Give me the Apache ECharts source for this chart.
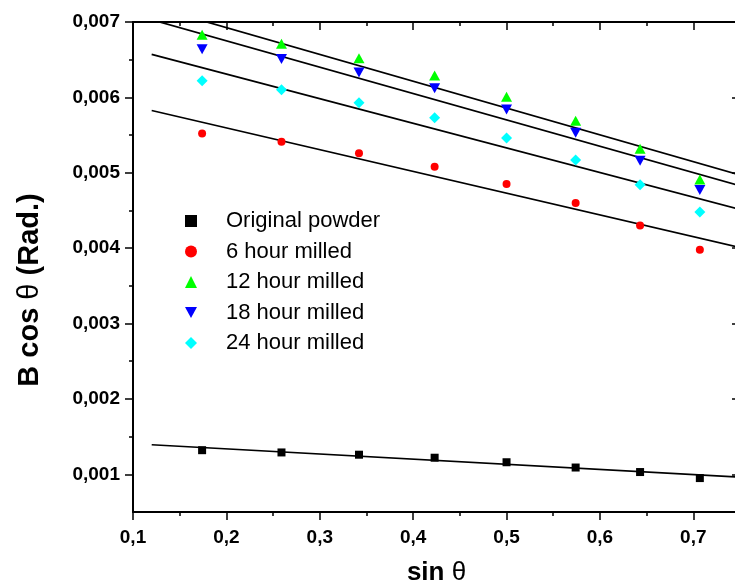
<!DOCTYPE html>
<html>
<head>
<meta charset="utf-8">
<script src="https://cdn.jsdelivr.net/npm/echarts@6/dist/echarts.min.js"></script>
<style>html,body{margin:0;padding:0;background:#fff;}#c{width:735px;height:587px;}</style>
</head>
<body>
<div id="c"></div>
<script>
// ---- data ----
const sinTheta = [0.174, 0.259, 0.342, 0.423, 0.500, 0.574, 0.643, 0.707];
const originalPowder = [0.00132, 0.00129, 0.00126, 0.00122, 0.00116, 0.00109, 0.00103, 0.00095];
const milled6h  = [0.00552, 0.00541, 0.00526, 0.00508, 0.00485, 0.00460, 0.00430, 0.00398];
const milled12h = [0.00683, 0.00671, 0.00652, 0.00629, 0.00601, 0.00569, 0.00532, 0.00491];
const milled18h = [0.00664, 0.00651, 0.00633, 0.00612, 0.00584, 0.00553, 0.00516, 0.00477];
const milled24h = [0.00622, 0.00610, 0.00593, 0.00573, 0.00546, 0.00517, 0.00484, 0.00448];
// linear fit lines: values at fitX ends
const fitX = [0.12, 0.75];
const fitOriginal = [0.001392, 0.000962];
const fit6h  = [0.005826, 0.004008];
const fit12h = [0.00721, 0.00497];
const fit18h = [0.00703, 0.004827];
const fit24h = [0.00657, 0.004512];
// ticks
const xMajor = [0.1, 0.2, 0.3, 0.4, 0.5, 0.6, 0.7];
const xMinor = [0.15, 0.25, 0.35, 0.45, 0.55, 0.65];
const yMajor = [0.001, 0.002, 0.003, 0.004, 0.005, 0.006, 0.007];
const yMinor = [0.0015, 0.0025, 0.0035, 0.0045, 0.0055, 0.0065];
const seriesNames = ['Original powder', '6 hour milled', '12 hour milled', '18 hour milled', '24 hour milled'];

const FONT = 'Liberation Sans, Arial, sans-serif';
const pair = (xs, ys) => xs.map((x, i) => [x, ys[i]]);
const xMin = 0.1, xMax = 0.75, yMin = 0.0005, yMax = 0.007;
const DOWN_TRI = 'path://M0,0 L10,0 L5,9 Z';

function xAxisDef(extra) {
  return Object.assign({
    type: 'value', min: xMin, max: xMax,
    splitLine: { show: false },
    axisLine: { show: true, onZero: false, lineStyle: { color: '#000', width: 2 } },
  }, extra);
}
function yAxisDef(extra) {
  return Object.assign({
    type: 'value', min: yMin, max: yMax,
    splitLine: { show: false },
    axisLine: { show: true, onZero: false, lineStyle: { color: '#000', width: 2 } },
  }, extra);
}
const noLabel = { show: false };

const chart = echarts.init(document.getElementById('c'), null, { renderer: 'canvas' });
chart.setOption({
  animation: false,
  backgroundColor: '#fff',
  grid: { left: 133, width: 607, top: 22, height: 490, containLabel: false, outerBoundsMode: 'none' },
  xAxis: [
    xAxisDef({
      position: 'bottom',
      name: 'sin {t|θ}', nameLocation: 'middle', nameGap: 48,
      nameTextStyle: { fontFamily: FONT, fontSize: 26, fontWeight: 'bold', color: '#000',
        rich: { t: { fontFamily: FONT, fontSize: 26, fontWeight: 'normal', color: '#000' } } },
      axisTick: { show: true, inside: false, length: 8, customValues: xMajor, lineStyle: { color: '#000', width: 1.5 } },
      axisLabel: { show: true, margin: 16, customValues: xMajor, fontFamily: FONT, fontSize: 19, fontWeight: 'bold', color: '#000',
        formatter: v => String(+v.toFixed(2)).replace('.', ',') }
    }),
    xAxisDef({ position: 'bottom', axisLine: { show: false },
      axisTick: { show: true, inside: false, length: 4, customValues: xMinor, lineStyle: { color: '#000', width: 1.5 } },
      axisLabel: noLabel }),
    xAxisDef({ position: 'top',
      axisTick: { show: true, inside: true, length: 8, customValues: xMajor, lineStyle: { color: '#000', width: 1.5 } },
      axisLabel: noLabel }),
    xAxisDef({ position: 'top', axisLine: { show: false },
      axisTick: { show: true, inside: true, length: 4, customValues: xMinor, lineStyle: { color: '#000', width: 1.5 } },
      axisLabel: noLabel })
  ],
  yAxis: [
    yAxisDef({
      position: 'left',
      axisTick: { show: true, inside: false, length: 8, customValues: yMajor, lineStyle: { color: '#000', width: 1.5 } },
      axisLabel: { show: true, margin: 13, customValues: yMajor, fontFamily: FONT, fontSize: 19, fontWeight: 'bold', color: '#000',
        formatter: v => v.toFixed(3).replace('.', ',') }
    }),
    yAxisDef({ position: 'left', axisLine: { show: false },
      axisTick: { show: true, inside: false, length: 4, customValues: yMinor, lineStyle: { color: '#000', width: 1.5 } },
      axisLabel: noLabel }),
    yAxisDef({ position: 'right',
      axisTick: { show: true, inside: true, length: 8, customValues: yMajor, lineStyle: { color: '#000', width: 1.5 } },
      axisLabel: noLabel }),
    yAxisDef({ position: 'right', axisLine: { show: false },
      axisTick: { show: true, inside: true, length: 4, customValues: yMinor, lineStyle: { color: '#000', width: 1.5 } },
      axisLabel: noLabel })
  ],
  legend: {
    orient: 'vertical', left: 185, top: 210, padding: 0,
    data: seriesNames,
    itemWidth: 12, itemHeight: 12, itemGap: 8.5,
    textStyle: { fontFamily: FONT, fontSize: 22, color: '#000', lineHeight: 22, padding: [0, 0, 0, 24] }
  },
  graphic: [{
    type: 'text', x: 30, y: 290, rotation: Math.PI / 2,
    style: {
      text: 'B cos {t|θ} (Rad.)', align: 'center', verticalAlign: 'middle',
      font: 'bold 29px ' + FONT, fill: '#000',
      rich: { t: { fontFamily: FONT, fontSize: 29, fontWeight: 'normal', fill: '#000' } }
    }
  }],
  series: [
    { type: 'line', data: pair(fitX, fitOriginal), showSymbol: false, symbol: 'none', lineStyle: { color: '#000', width: 1.7 }, z: 1 },
    { type: 'line', data: pair(fitX, fit6h), showSymbol: false, symbol: 'none', lineStyle: { color: '#000', width: 1.7 }, z: 1 },
    { type: 'line', data: pair(fitX, fit12h), showSymbol: false, symbol: 'none', lineStyle: { color: '#000', width: 1.7 }, z: 1 },
    { type: 'line', data: pair(fitX, fit18h), showSymbol: false, symbol: 'none', lineStyle: { color: '#000', width: 1.7 }, z: 1 },
    { type: 'line', data: pair(fitX, fit24h), showSymbol: false, symbol: 'none', lineStyle: { color: '#000', width: 1.7 }, z: 1 },
    { name: seriesNames[0], type: 'scatter', data: pair(sinTheta, originalPowder), symbol: 'rect', symbolSize: 8, itemStyle: { color: '#000000', opacity: 1 }, z: 3 },
    { name: seriesNames[1], type: 'scatter', data: pair(sinTheta, milled6h), symbol: 'circle', symbolSize: 8, itemStyle: { color: '#ff0000', opacity: 1 }, z: 3 },
    { name: seriesNames[2], type: 'scatter', data: pair(sinTheta, milled12h), symbol: 'triangle', symbolSize: [11, 10], itemStyle: { color: '#00ff00', opacity: 1 }, z: 3 },
    { name: seriesNames[3], type: 'scatter', data: pair(sinTheta, milled18h), symbol: DOWN_TRI, symbolSize: [11, 10], itemStyle: { color: '#0000ff', opacity: 1 }, z: 3 },
    { name: seriesNames[4], type: 'scatter', data: pair(sinTheta, milled24h), symbol: 'diamond', symbolSize: [11, 11], itemStyle: { color: '#00ffff', opacity: 1 }, z: 3 }
  ]
});
</script>
</body>
</html>
